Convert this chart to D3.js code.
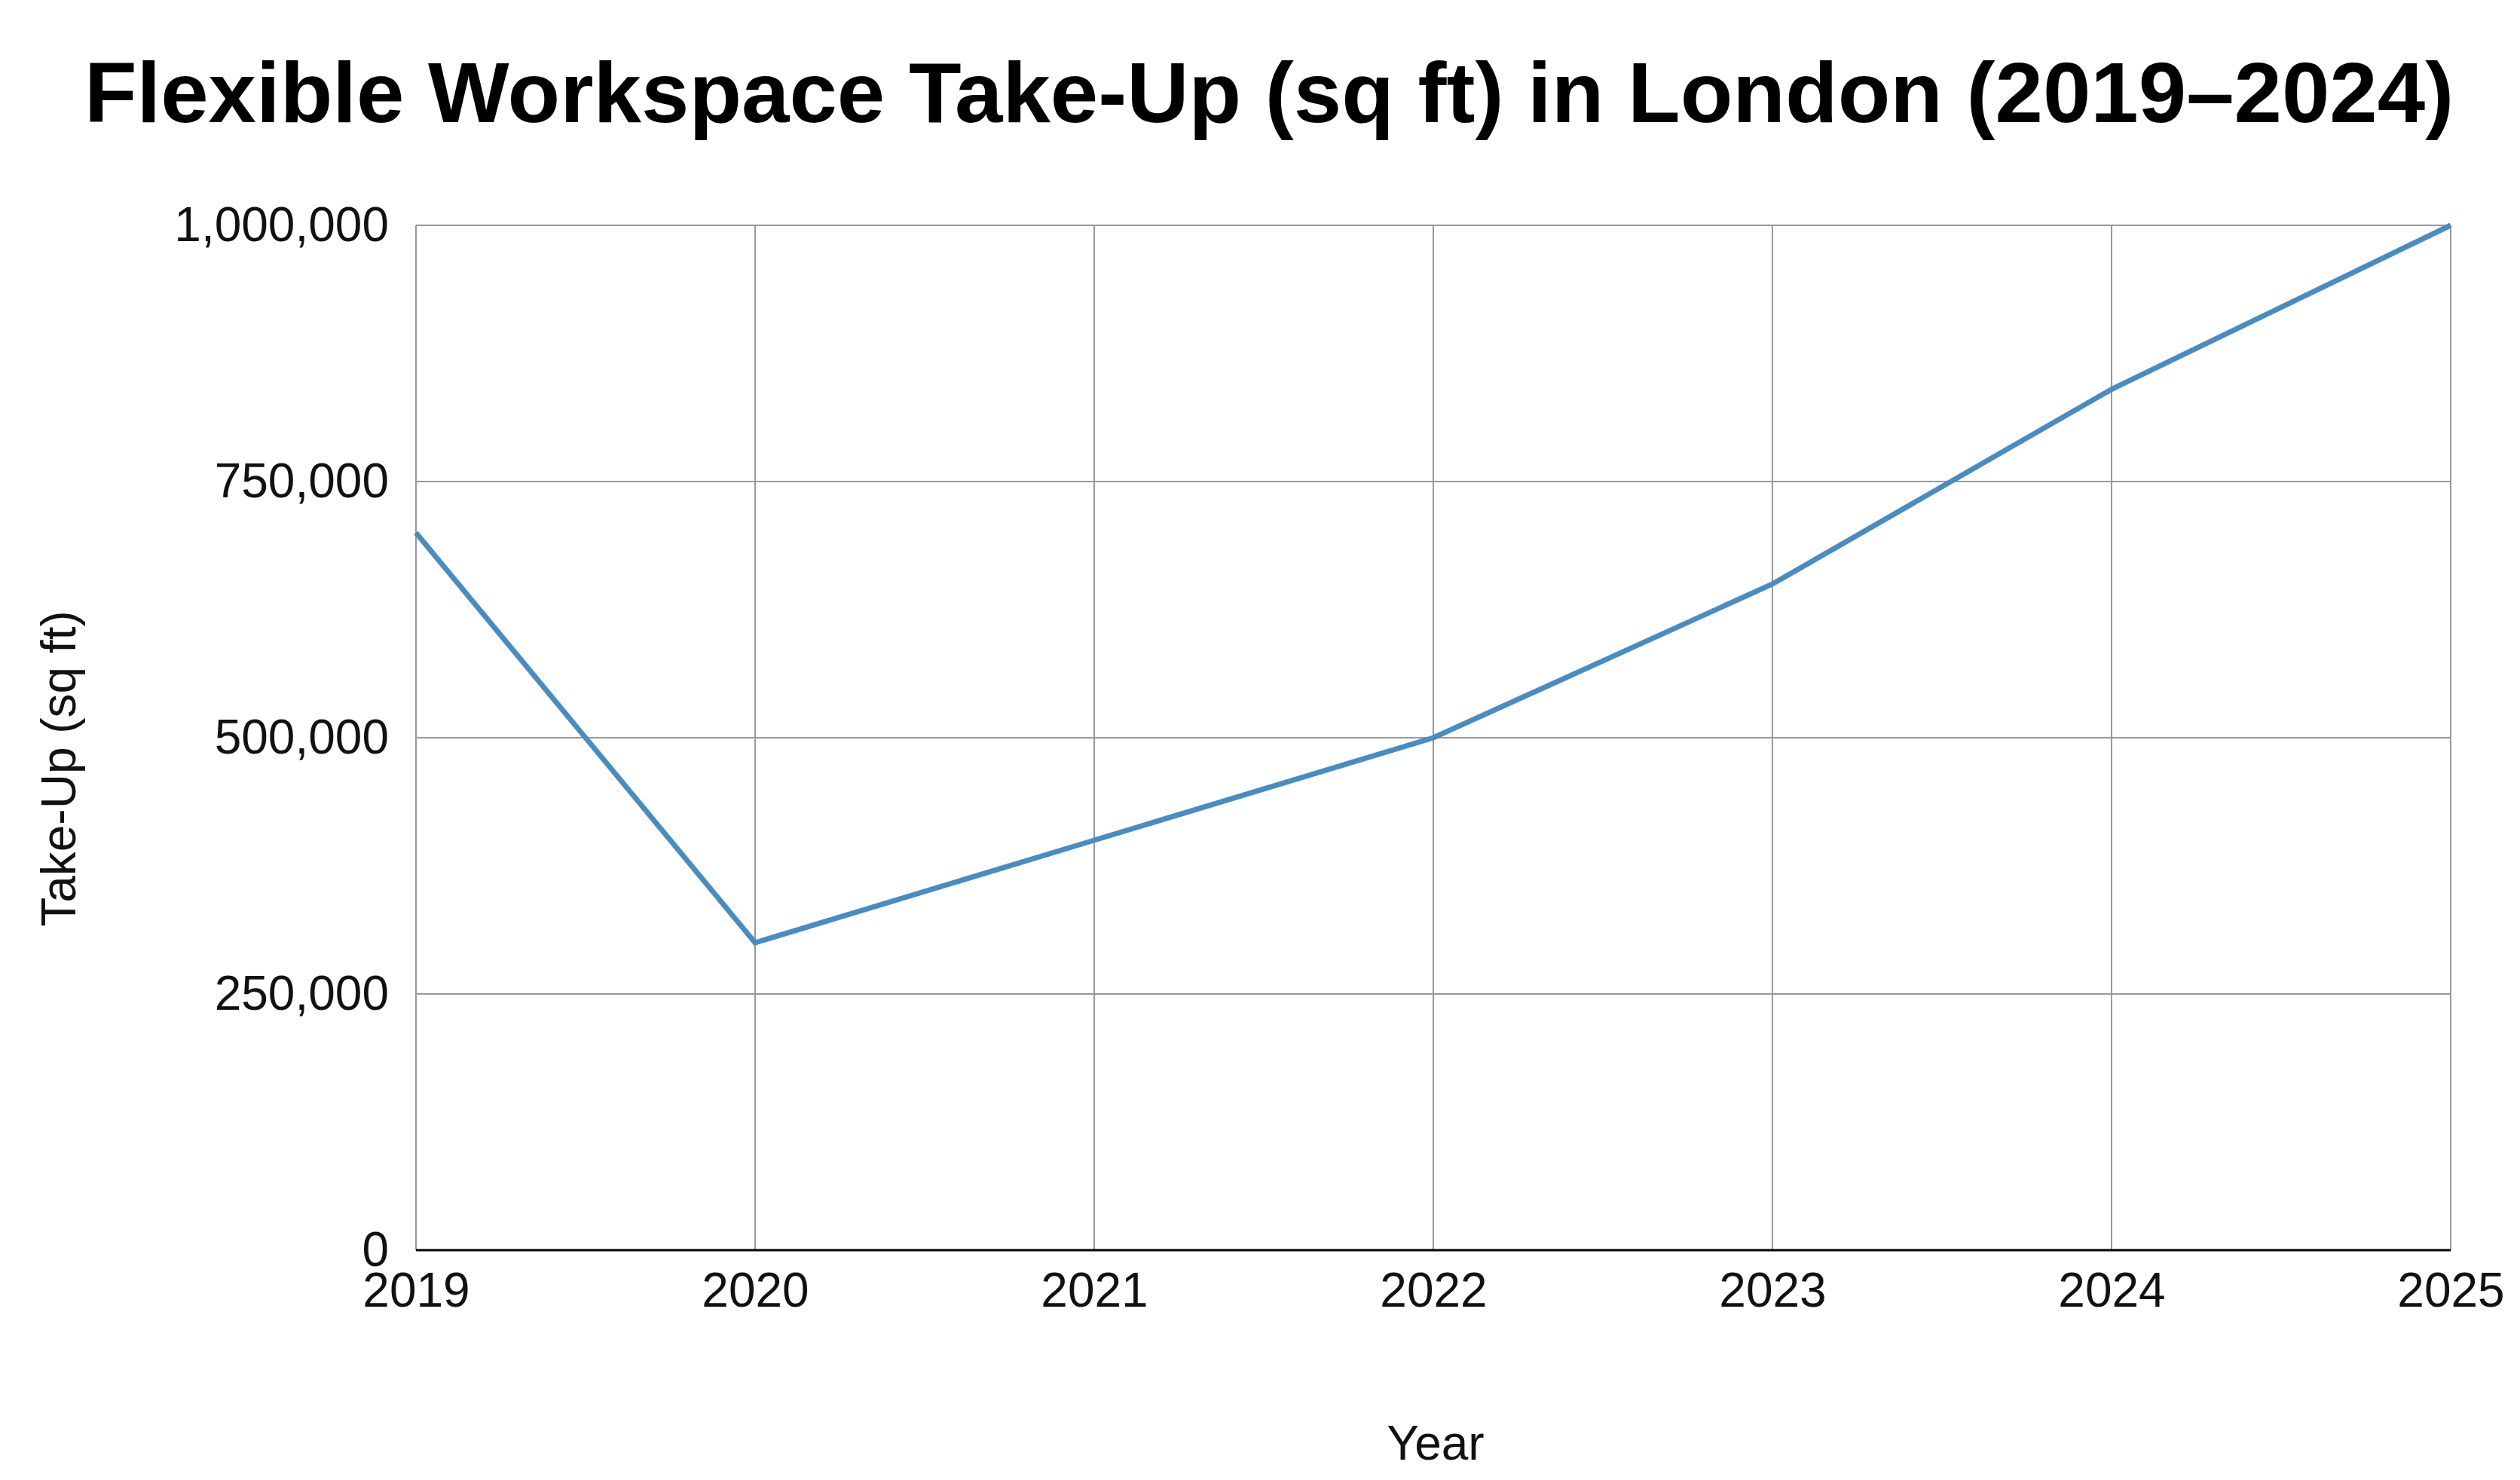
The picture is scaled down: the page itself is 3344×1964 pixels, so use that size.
<!DOCTYPE html>
<html><head><meta charset="utf-8">
<script src="https://cdn.jsdelivr.net/npm/d3@7"></script>
<style>body{margin:0;background:#fff}</style></head>
<body><svg id="c" width="3344" height="1964"></svg>
<script>
const years = [2019, 2020, 2021, 2022, 2023, 2024, 2025];
const takeUp = [700000, 300000, 400000, 500000, 650000, 840000, 1000000];
const yTicks = [0, 250000, 500000, 750000, 1000000];

const svg = d3.select("#c");
const L = 552, R = 3252, T = 299, B = 1659;
const x = d3.scaleLinear().domain([2019, 2025]).range([L, R]);
const y = d3.scaleLinear().domain([0, 1000000]).range([B, T]);
const font = "Liberation Sans, Arial, sans-serif";

svg.append("text").attr("x", 1684).attr("y", 162).attr("text-anchor", "middle")
  .style("font-family", font).style("font-weight", "bold").style("font-size", "114px")
  .text("Flexible Workspace Take-Up (sq ft) in London (2019–2024)");

const g = svg.append("g");
g.selectAll(".vg").data(years).join("line")
  .attr("x1", d => x(d)).attr("x2", d => x(d)).attr("y1", T).attr("y2", B)
  .attr("stroke", "#999").attr("stroke-width", 2);
g.selectAll(".hg").data(yTicks.filter(d => d > 0)).join("line")
  .attr("x1", L).attr("x2", R).attr("y1", d => y(d)).attr("y2", d => y(d))
  .attr("stroke", "#999").attr("stroke-width", 2);
g.append("line").attr("x1", L).attr("x2", R).attr("y1", B).attr("y2", B)
  .attr("stroke", "#000").attr("stroke-width", 3);

const yAxis = svg.append("g").attr("transform", `translate(${L},0)`)
  .call(d3.axisLeft(y).tickValues(yTicks).tickSize(0).tickPadding(36).tickFormat(d3.format(",")));
yAxis.select(".domain").remove();
yAxis.selectAll("text").style("font-family", font).style("font-size", "64px").attr("fill", "#111");

const xAxis = svg.append("g").attr("transform", `translate(0,${B})`)
  .call(d3.axisBottom(x).tickValues(years).tickSize(0).tickPadding(30).tickFormat(d3.format("d")));
xAxis.select(".domain").remove();
xAxis.selectAll("text").style("font-family", font).style("font-size", "64px").attr("fill", "#111");

svg.append("path").datum(years.map((d, i) => [d, takeUp[i]]))
  .attr("d", d3.line().x(d => x(d[0])).y(d => y(d[1])))
  .attr("fill", "none").attr("stroke", "#4a8cc0").attr("stroke-width", 7);

svg.append("text").attr("x", 1905).attr("y", 1937).attr("text-anchor", "middle")
  .style("font-family", font).style("font-size", "64px").attr("fill", "#111").text("Year");
svg.append("text").attr("transform", "translate(100,1020) rotate(-90)").attr("text-anchor", "middle")
  .style("font-family", font).style("font-size", "64px").attr("fill", "#111").text("Take-Up (sq ft)");
</script></body></html>
